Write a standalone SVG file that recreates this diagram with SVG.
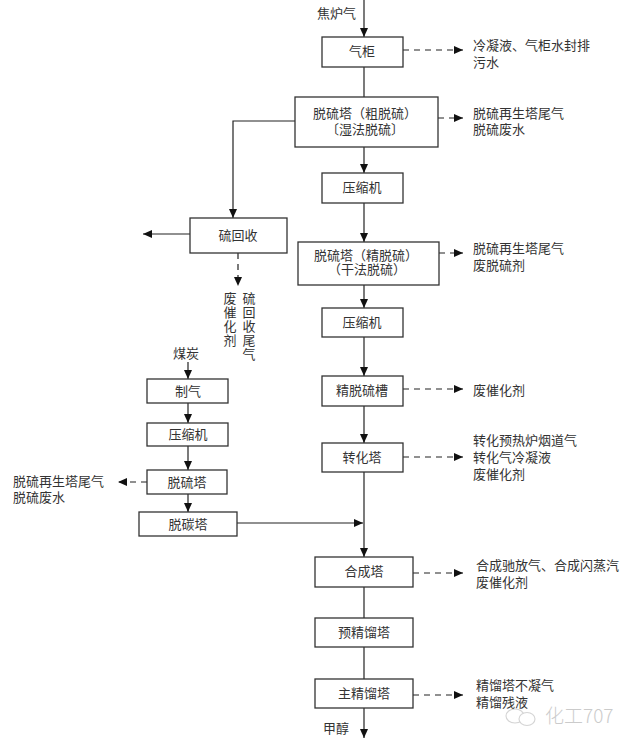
<svg xmlns="http://www.w3.org/2000/svg" width="640" height="751" viewBox="0 0 640 751">
<defs>
<marker id="ah" markerWidth="10" markerHeight="10" refX="9" refY="5" orient="auto" markerUnits="userSpaceOnUse">
<path d="M0,1 L9,5 L0,9 Z" fill="#111"/>
</marker>
<style>
.box{fill:#fff;stroke:#333;stroke-width:1.3}
.t{font-family:"Liberation Serif","Noto Sans CJK SC",serif;font-size:13px;fill:#333}
.c{text-anchor:middle}
.ln{stroke:#222;stroke-width:1.2;fill:none}
.ar{stroke:#222;stroke-width:1.2;fill:none;marker-end:url(#ah)}
.da{stroke:#222;stroke-width:1.2;fill:none;stroke-dasharray:6 5;marker-end:url(#ah)}
</style>
</defs>
<rect width="640" height="751" fill="#fff"/>

<g id="connectors">
<line class="ar" x1="364" y1="0" x2="364" y2="37"/>
<line class="ln" x1="364" y1="67" x2="364" y2="97"/>
<line class="ar" x1="364" y1="147" x2="364" y2="173"/>
<line class="ar" x1="364" y1="203" x2="364" y2="242"/>
<line class="ar" x1="364" y1="285" x2="364" y2="308"/>
<line class="ar" x1="364" y1="337" x2="364" y2="376"/>
<line class="ar" x1="364" y1="406" x2="364" y2="443"/>
<line class="ar" x1="364" y1="472" x2="364" y2="557"/>
<line class="ln" x1="364" y1="587" x2="364" y2="618"/>
<line class="ln" x1="364" y1="647" x2="364" y2="679"/>
<line class="ar" x1="364" y1="708" x2="364" y2="738"/>
<polyline class="ar" points="295,121 233,121 233,218"/>
<line class="ar" x1="190" y1="234" x2="143" y2="234"/>
<line class="da" x1="238" y1="253" x2="238" y2="286"/>
<line class="da" x1="403" y1="50" x2="463" y2="50"/>
<line class="da" x1="438" y1="118" x2="463" y2="118"/>
<line class="da" x1="439" y1="253" x2="463" y2="253"/>
<line class="da" x1="403" y1="389" x2="463" y2="389"/>
<line class="da" x1="403" y1="457" x2="463" y2="457"/>
<line class="da" x1="413" y1="573" x2="463" y2="573"/>
<line class="da" x1="413" y1="695" x2="463" y2="695"/>
<line class="ar" x1="188" y1="362" x2="188" y2="379"/>
<line class="ar" x1="188" y1="403" x2="188" y2="423"/>
<line class="ar" x1="188" y1="446" x2="188" y2="470"/>
<line class="ar" x1="188" y1="494" x2="188" y2="512"/>
<line class="da" x1="147" y1="482" x2="118" y2="482"/>
<line class="ar" x1="237" y1="523" x2="363" y2="523"/>
</g>

<g id="n-input"><text class="t" x="317" y="18">焦炉气</text></g>

<g id="n-qigui"><rect class="box" x="322" y="37" width="81" height="30"/><text class="t c" x="362" y="56">气柜</text></g>
<g id="o-qigui"><text class="t" x="473" y="50">冷凝液、气柜水封排</text><text class="t" x="473" y="67">污水</text></g>

<g id="n-cutuoliu"><rect class="box" x="295" y="97" width="143" height="50"/><text class="t c" x="365" y="118">脱硫塔（粗脱硫）</text><text class="t c" x="365" y="134">〔湿法脱硫〕</text></g>
<g id="o-cutuoliu"><text class="t" x="473" y="118">脱硫再生塔尾气</text><text class="t" x="473" y="134">脱硫废水</text></g>

<g id="n-ysj1"><rect class="box" x="322" y="173" width="81" height="30"/><text class="t c" x="362" y="192">压缩机</text></g>

<g id="n-liuhuishou"><rect class="box" x="190" y="218" width="97" height="35"/><text class="t c" x="238" y="240">硫回收</text></g>
<g id="o-liuhuishou">
<text class="t c" x="249" y="303">硫</text><text class="t c" x="249" y="317">回</text><text class="t c" x="249" y="331">收</text><text class="t c" x="249" y="345">尾</text><text class="t c" x="249" y="359">气</text>
<text class="t c" x="230" y="303">废</text><text class="t c" x="230" y="317">催</text><text class="t c" x="230" y="331">化</text><text class="t c" x="230" y="345">剂</text>
</g>

<g id="n-jingtuoliu"><rect class="box" x="298" y="242" width="141" height="43"/><text class="t c" x="366" y="260">脱硫塔（精脱硫）</text><text class="t c" x="367" y="274">（干法脱硫）</text></g>
<g id="o-jingtuoliu"><text class="t" x="473" y="253">脱硫再生塔尾气</text><text class="t" x="473" y="270">废脱硫剂</text></g>

<g id="n-ysj2"><rect class="box" x="322" y="308" width="81" height="29"/><text class="t c" x="362" y="327">压缩机</text></g>

<g id="n-jtlc"><rect class="box" x="322" y="376" width="81" height="30"/><text class="t c" x="362" y="395">精脱硫槽</text></g>
<g id="o-jtlc"><text class="t" x="473" y="395">废催化剂</text></g>

<g id="n-zhuanhua"><rect class="box" x="322" y="443" width="81" height="29"/><text class="t c" x="362" y="462">转化塔</text></g>
<g id="o-zhuanhua"><text class="t" x="473" y="445">转化预热炉烟道气</text><text class="t" x="473" y="462">转化气冷凝液</text><text class="t" x="473" y="479">废催化剂</text></g>

<g id="n-meitan"><text class="t" x="173" y="358">煤炭</text></g>
<g id="n-zhiqi"><rect class="box" x="147" y="379" width="81" height="24"/><text class="t c" x="188" y="396">制气</text></g>
<g id="n-ysj3"><rect class="box" x="147" y="423" width="81" height="23"/><text class="t c" x="188" y="439">压缩机</text></g>
<g id="n-tuoliu3"><rect class="box" x="147" y="470" width="80" height="24"/><text class="t c" x="187" y="487">脱硫塔</text></g>
<g id="o-tuoliu3"><text class="t" x="13" y="486">脱硫再生塔尾气</text><text class="t" x="13" y="502">脱硫废水</text></g>
<g id="n-tuotan"><rect class="box" x="139" y="512" width="98" height="24"/><text class="t c" x="188" y="529">脱碳塔</text></g>

<g id="n-hecheng"><rect class="box" x="315" y="557" width="98" height="30"/><text class="t c" x="364" y="576">合成塔</text></g>
<g id="o-hecheng"><text class="t" x="476" y="570">合成驰放气、合成闪蒸汽</text><text class="t" x="476" y="587">废催化剂</text></g>

<g id="n-yujingliu"><rect class="box" x="315" y="618" width="98" height="29"/><text class="t c" x="364" y="637">预精馏塔</text></g>

<g id="n-zhujingliu"><rect class="box" x="315" y="679" width="98" height="29"/><text class="t c" x="364" y="698">主精馏塔</text></g>
<g id="o-zhujingliu"><text class="t" x="476" y="690">精馏塔不凝气</text><text class="t" x="476" y="707">精馏残液</text></g>

<g id="n-output"><text class="t" x="323" y="733">甲醇</text></g>

<g id="watermark" opacity="0.5">
<ellipse cx="515" cy="716" rx="9" ry="7" fill="none" stroke="#aaa" stroke-width="1.1"/>
<ellipse cx="527" cy="719" rx="8" ry="6.5" fill="#fff" stroke="#aaa" stroke-width="1.1"/>
<text x="545" y="723" style="font-family:'Noto Sans CJK SC',sans-serif;font-size:19px;font-weight:300;fill:#999">化工707</text>
</g>
</svg>
